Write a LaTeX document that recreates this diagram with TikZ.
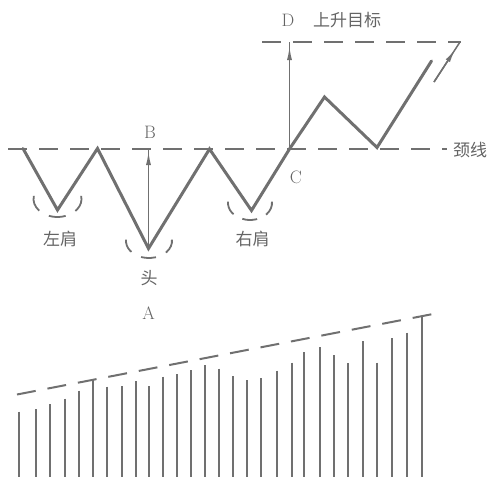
\documentclass[tikz,border=0pt]{standalone}
\usepackage{fontspec}
\newfontfamily\cjk{Noto Sans CJK SC}
\usetikzlibrary{arrows.meta}
\definecolor{ink}{RGB}{112,112,112}
\definecolor{txt}{RGB}{100,100,100}
\tikzset{
  zig/.style={draw=ink,line width=3pt,line join=miter,line cap=round},
  dline/.style={draw=ink,line width=2pt,dash pattern=on 19pt off 12pt},
  darc/.style={draw=ink,line width=1.8pt},
  vline/.style={draw=ink,line width=1.5pt},
  tipline/.style={draw=ink,line width=1.5pt,-{Latex[length=14pt,width=5pt]}},
  bar/.style={draw=ink,line width=2.2pt},
  lat/.style={text=txt,font=\fontsize{18}{18}\selectfont,inner sep=0pt},
  zh/.style={text=txt,font=\cjk\fontsize{17}{17}\selectfont,inner sep=0pt}
}
\begin{document}
\begin{tikzpicture}[x=1pt,y=-1pt]
\useasboundingbox (0,0) rectangle (491,477);
% key points
\coordinate (P0) at (23,148.5);
\coordinate (LS) at (57.5,210);
\coordinate (P1) at (97.5,148.5);
\coordinate (H) at (148.5,248.5);
\coordinate (P2) at (209.5,149);
\coordinate (RS) at (251.5,210.5);
\coordinate (C) at (289.5,149);
\coordinate (P3) at (324.5,97);
\coordinate (P4) at (377,147.5);
\coordinate (E) at (431.5,61);
\coordinate (Btop) at (148.5,148.5);
\coordinate (Btip) at (148.5,151);
\coordinate (Dtop) at (289.5,41.5);
\coordinate (Dtip) at (289.5,46);
\coordinate (NL) at (8,148.5);
\coordinate (NR) at (447,148.5);
\coordinate (TL) at (262,41.5);
\coordinate (TR) at (461,41.5);
\coordinate (SA0) at (434,82);
\coordinate (SA1) at (460,42);
\coordinate (SAt) at (455.5,49);
\coordinate (TrL) at (17,394.5);
\coordinate (TrR) at (433,314);
% dashed lines
\draw[dline] (NL) -- (NR);
\draw[dline] (TL) -- (TR);
\draw[dline] (TrL) -- (TrR);
% zigzag
\draw[zig] (P0) -- (LS) -- (P1) -- (H) -- (P2) -- (RS) -- (C) -- (P3) -- (P4) -- (E);
% vertical arrows
\draw[vline] (H) -- (Btop);
\draw[tipline] (H) -- (Btip);
\draw[vline] (C) -- (Dtop);
\draw[tipline] (C) -- (Dtip);
% small arrow
\draw[vline] (SA0) -- (SA1);
\draw[tipline] (SA0) -- (SAt);
% dashed arcs
\draw[darc,dash pattern=on 17pt off 11pt] (57.5,199) ++(-10:24 and 18) arc[start angle=-10,end angle=190,x radius=24,y radius=18];
\draw[darc,dash pattern=on 15pt off 11pt] (149,241) ++(-5:23 and 17) arc[start angle=-5,end angle=185,x radius=23,y radius=17];
\draw[darc,dash pattern=on 15pt off 10pt] (250,203) ++(-5:22 and 17) arc[start angle=-5,end angle=185,x radius=22,y radius=17];
% volume bars
\foreach \x/\t in {19.3/411.7,36/409.3,50.3/404,65.3/398.7,79.3/390.7,93.3/380,106.7/386.7,121.7/386,135.7/381,149.3/386,163.3/376.7,177/374,190.7/370,204.7/365,218.7/368.7,233/376,247/380,261.3/378,276.7/370.7,291.7/362.7,304/352.3,319.7/347.3,334/355,348.3/363.3,362.7/341,376.7/362.7,391.7/338.3,407.3/332.7,421.7/316.7}
  \draw[bar] (\x,\t) -- (\x,478);
% labels
\node[lat] (lB) at (150,132) {B};
\node[lat] (lA) at (148.5,313.5) {A};
\node[lat] (lC) at (296,177) {C};
\node[lat] (lD) at (288,20) {D};
\node[zh] (lDt) at (347,20) {上升目标};
\node[zh] (lNeck) at (470,150) {颈线};
\node[zh] (lLS) at (60,238.5) {左肩};
\node[zh] (lH) at (149,278) {头};
\node[zh] (lRS) at (252.5,239) {右肩};
\end{tikzpicture}
\end{document}
